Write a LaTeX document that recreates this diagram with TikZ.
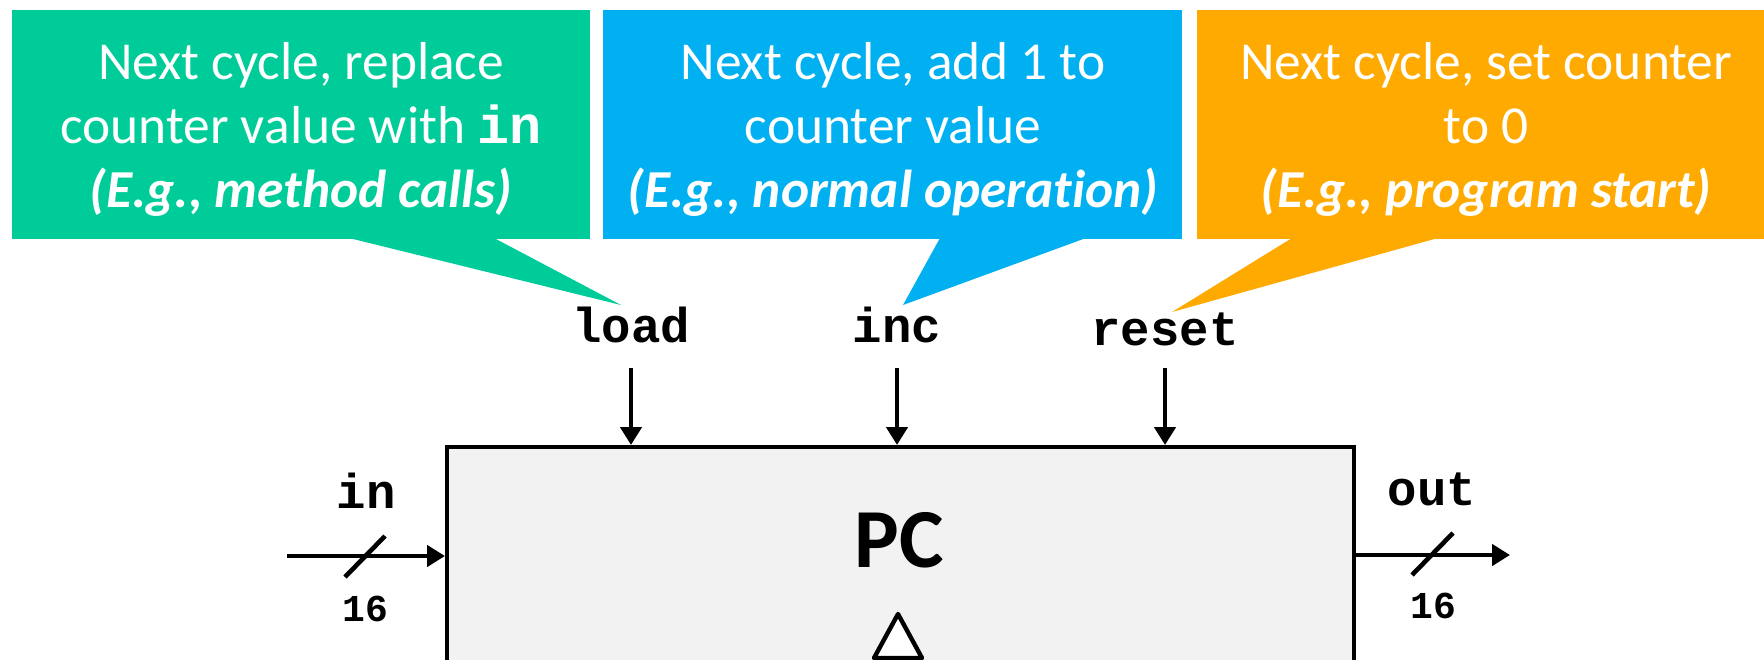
\documentclass[tikz,border=0pt]{standalone}
\usepackage{fontspec}
\setmainfont[Ligatures={NoCommon}]{Carlito}
\setmonofont{Liberation Mono}
\usetikzlibrary{arrows.meta,calc}
\definecolor{cgreen}{RGB}{0,204,153}
\definecolor{cblue}{RGB}{0,176,240}
\definecolor{corange}{RGB}{255,170,0}
\definecolor{pcfill}{RGB}{242,242,242}
\begin{document}
\begin{tikzpicture}[x=0.5pt,y=-0.5pt,
  cbox/.style={rectangle,inner sep=0pt,draw=none},
  ctext/.style={text=white,inner sep=0pt,anchor=base,font=\fontsize{26.7}{30}\selectfont},
  cemph/.style={ctext,font=\fontsize{26.7}{30}\selectfont\bfseries\itshape},
  sig/.style={inner sep=0pt,anchor=base,font=\fontsize{24.5}{24}\selectfont\ttfamily\bfseries},
  width/.style={inner sep=0pt,anchor=base,font=\fontsize{19}{19}\selectfont\ttfamily\bfseries},
  wire/.style={line width=2.3pt,-{Triangle[length=9pt,width=10.5pt]}},
  slash/.style={line width=2.3pt}]
\useasboundingbox (0,0) rectangle (1764,659);
% callout boxes
\node[cbox,fill=cgreen,minimum width=289.25pt,minimum height=114.5pt] (gbox) at (300.75,124.5) {};
\node[cbox,fill=cblue,minimum width=289.5pt,minimum height=114.5pt] (bbox) at (892.5,124.5) {};
\node[cbox,fill=corange,minimum width=289pt,minimum height=114.5pt] (obox) at (1486,124.5) {};
\fill[cgreen] (349,238) -- (621,305) -- (494,238) -- cycle;
\fill[cblue] (940,238) -- (903,305) -- (1086,238) -- cycle;
\fill[corange] (1292,238) -- (1172,312) -- (1438,238) -- cycle;
% callout texts
\node[ctext] (g1) at (301,79) {Next cycle, replace};
\node[ctext] (g2) at (301,143) {counter value with {\ttfamily\bfseries in}};
\node[cemph] (g3) at (301,207) {(E.g., method calls)};
\node[ctext] (b1) at (893,79) {Next cycle, add 1 to};
\node[ctext] (b2) at (893,143) {counter value};
\node[cemph] (b3) at (893,207) {(E.g., normal operation)};
\node[ctext] (o1) at (1486,79) {Next cycle, set counter};
\node[ctext] (o2) at (1486,143) {to 0};
\node[cemph] (o3) at (1486,207) {(E.g., program start)};
% PC box
\node[rectangle,draw,line width=2.2pt,fill=pcfill,inner sep=0pt,
      minimum width=453.5pt,minimum height=160pt,anchor=north west] (pc) at (445,445) {};
\node[inner sep=0pt,anchor=base,font=\fontsize{42}{42}\selectfont\bfseries] (pclabel) at (899,567) {PC};
\draw[line width=2.2pt,fill=white,line join=round] (874,658) -- (898,614) -- (922,658) -- cycle;
% control signals
\node[sig] (load) at (631,342) {load};
\node[sig] (inc) at (897,342) {inc};
\node[sig] (reset) at (1165,345) {reset};
\coordinate (la) at (631,368);
\coordinate (lb) at (897,368);
\coordinate (lc) at (1165,368);
\draw[wire] (la) -- (la |- pc.north);
\draw[wire] (lb) -- (lb |- pc.north);
\draw[wire] (lc) -- (lc |- pc.north);
% input
\coordinate (inS) at (287,556);
\draw[wire] (inS) -- (inS -| pc.west);
\draw[slash] (345,577) -- (385,536);
\node[sig] (inlab) at (366,508) {in};
\node[width] (inw) at (365,621) {16};
% output
\coordinate (outE) at (1510,555);
\draw[wire] (outE -| pc.east) -- (outE);
\draw[slash] (1412,575) -- (1453,533);
\node[sig] (outlab) at (1432,505) {out};
\node[width] (outw) at (1433,618) {16};
\end{tikzpicture}
\end{document}
